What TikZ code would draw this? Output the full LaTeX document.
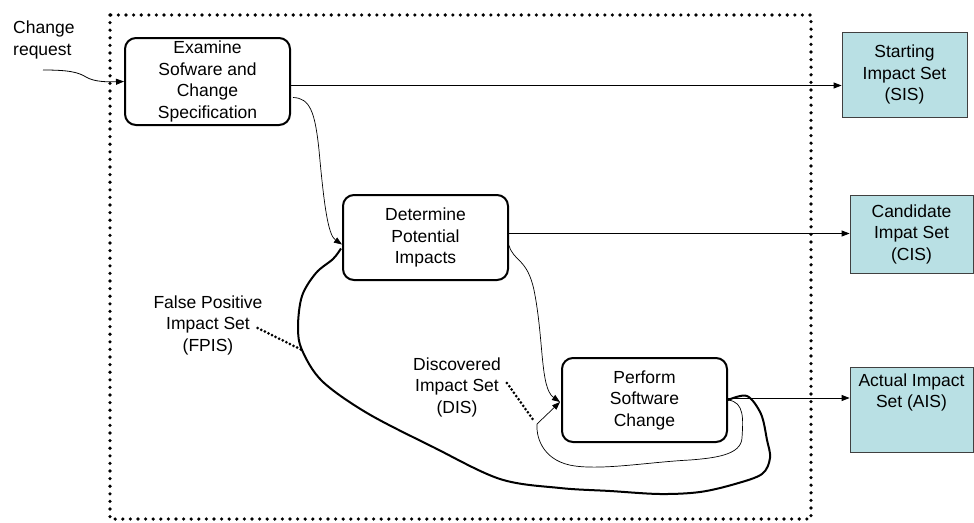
\documentclass[tikz,border=0pt]{standalone}
\usepackage{fontspec}
\setmainfont{Liberation Sans}
\usetikzlibrary{arrows.meta,calc}
\definecolor{setfill}{RGB}{185,224,228}
\begin{document}
\begin{tikzpicture}[x=1pt,y=-1pt,
  every node/.style={font=\fontsize{17.5}{21.5}\selectfont, inner sep=0pt, align=center},
  procbox/.style={draw, line width=2pt, rounded corners=11pt, minimum width=165pt},
  setbox/.style={draw=black!75, line width=0.8pt, fill=setfill, minimum width=123pt},
  tip/.style={-{Triangle[length=8pt,width=6pt]}},
  thinarrow/.style={line width=0.8pt, tip},
  flow/.style={line width=0.7pt},
  loopline/.style={line width=2pt, line join=round},
  framedots/.style={line width=3.6pt, line cap=round, dash pattern=on 0pt off 7.6pt},
  pointer/.style={line width=3pt, line cap=round, dash pattern=on 0pt off 4pt}]
\useasboundingbox (0,0) rectangle (974,522);

% frame
\draw[framedots] (110,15) rectangle (811,519);

% process boxes
\node[procbox, minimum height=87pt] (b1) at (207.5,81.5) {Examine\\Sofware and\\Change\\Specification};
\node[procbox, minimum height=85pt] (b2) at (425.5,237.5) {Determine\\Potential\\Impacts};
\node[procbox, minimum height=84pt] (b3) at (644.5,400) {Perform\\Software\\Change};

% result sets
\node[setbox, minimum width=125pt, minimum height=85pt] (sis) at (904.5,74.5) {Starting\\Impact Set\\(SIS)};
\node[setbox, minimum height=78pt] (cis) at (911.5,234) {Candidate\\Impat Set\\(CIS)};
\node[setbox, minimum height=85pt, label={[yshift=17pt]center:Actual Impact\\Set (AIS)}] (ais) at (911.5,409.5) {};

% labels
\node[anchor=north west, align=left] (cr) at (13,21) {Change\\request};
\node (fpis) at (208,325) {False Positive\\Impact Set\\(FPIS)};
\node (dis) at (457,387) {Discovered\\Impact Set\\(DIS)};

% change request input
\coordinate (crstart) at (43,70);
\draw[thinarrow] (crstart) .. controls (68,70) and (78,72) .. (86,77) .. controls (94,82) and (108,82) .. (b1.west);

% outputs
\coordinate (p1) at ($(b1.east)+(0,4)$);
\draw[thinarrow] (p1) -- (p1 -| sis.west);
\coordinate (p2) at ($(b2.east)+(0,-4)$);
\draw[thinarrow] (p2) -- (p2 -| cis.west);
\coordinate (p3) at ($(b3.east)+(0,-2)$);
\draw[thinarrow] (p3) -- (p3 -| ais.west);

% process flow
\draw[flow, tip] ($(b1.east)+(2,16)$) .. controls (310,98) and (315,112) .. (319,150)
  .. controls (324,205) and (328,235) .. ($(b2.west)+(0,7)$);
\draw[flow, tip] ($(b2.east)+(0,8)$) .. controls (514,262) and (527,258) .. (534,290)
  .. controls (544,340) and (540,388) .. ($(b3.west)+(-1,2)$);

% discovered impact loop
\draw[flow, tip] (b3.east) .. controls (745,402) and (743,420) .. (742,438)
  .. controls (741,455) and (715,458) .. (690,460)
  .. controls (650,462) and (605,470) .. (575,466)
  .. controls (545,462) and (536,440) .. (537,424) coordinate (disend)
  -- ($(b3.west)+(-1,2)$);

% false positive loop
\coordinate (loopstart) at (b3.east);
\coordinate (fpisend) at (302,350);
\coordinate (loopend) at ($(b2.west)+(-1,11)$);
\draw[loopline] plot[smooth, tension=0.55] coordinates {(loopstart) (747,396) (761,414) (767,440) (770,458) (762,474) (735,484) (700,492) (660,494) (610,491) (560,488) (500,479) (433,447) (367,413) (322,381) (fpisend) (298,327) (302,296) (316,273) (333,259) (loopend)};

% pointers
\draw[pointer] ($(fpis.east)+(-5,3)$) -- (fpisend);
\draw[pointer] ($(dis.east)+(6,-4)$) -- ($(disend)+(-3,-3)$);
\end{tikzpicture}
\end{document}
